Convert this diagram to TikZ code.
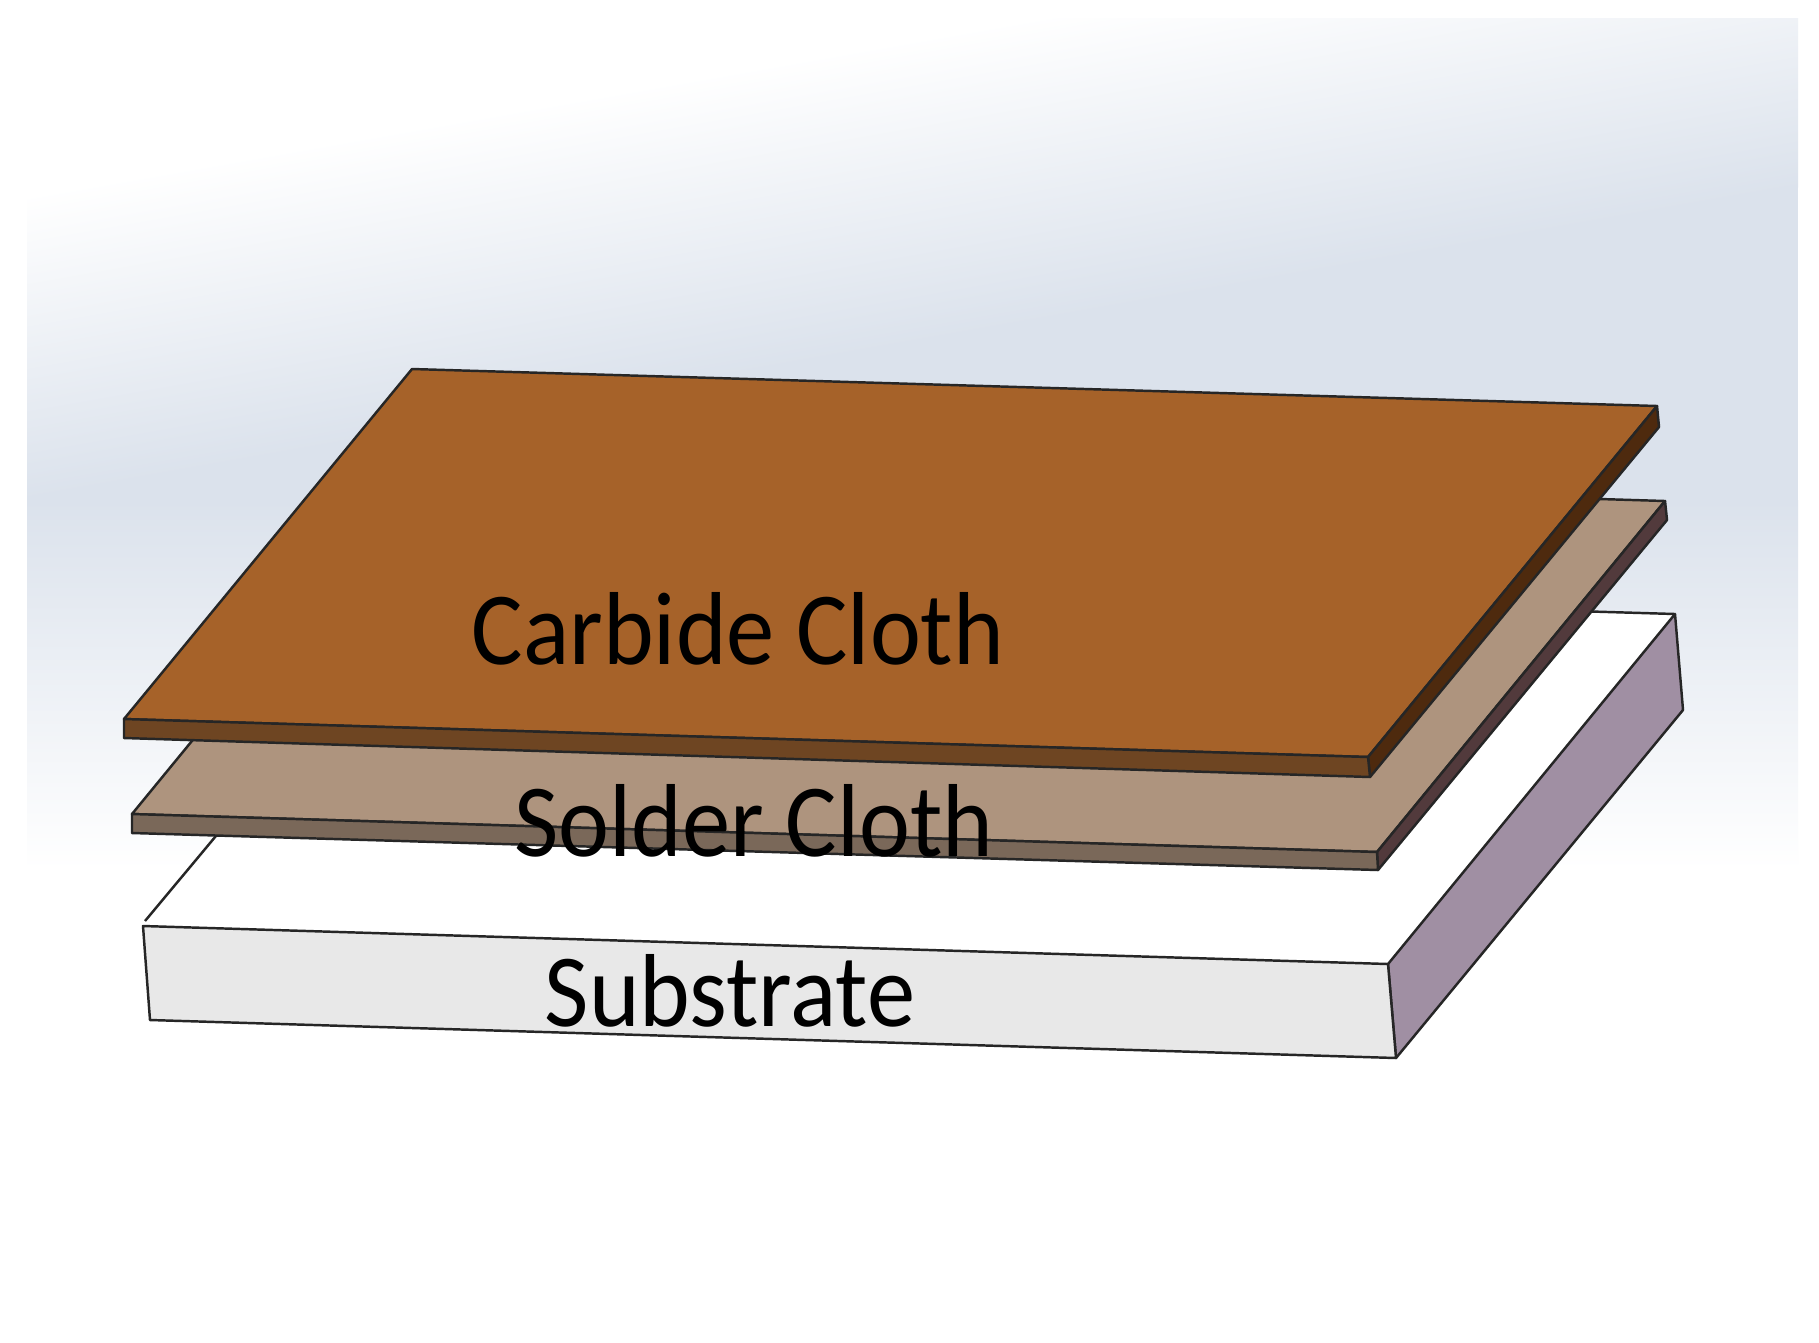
\documentclass[tikz,border=0pt]{standalone}
\usepackage{fontspec}
\newfontfamily\labelfont[FakeStretch=0.93]{Carlito}
\definecolor{skyblue}{RGB}{219,226,236}
\definecolor{carbidetop}{RGB}{166,98,41}
\definecolor{carbidefront}{RGB}{110,69,34}
\definecolor{carbideside}{RGB}{78,42,14}
\definecolor{soldertop}{RGB}{174,148,126}
\definecolor{solderfront}{RGB}{122,104,89}
\definecolor{solderside}{RGB}{82,58,60}
\definecolor{subfront}{RGB}{232,232,232}
\definecolor{subside}{RGB}{160,143,163}
\pgfdeclareverticalshading{skyfall}{100bp}{color(0bp)=(white);color(32bp)=(white);color(75bp)=(skyblue);color(100bp)=(skyblue)}
\pgfdeclareverticalshading{skyrise}{100bp}{color(0bp)=(skyblue);color(25bp)=(skyblue);color(68bp)=(white);color(100bp)=(white)}
\begin{document}
\begin{tikzpicture}[x=0.01cm,y=-0.01cm,
    face/.style={draw=black!85,line width=0.7pt,line join=round},
    tag/.style={anchor=base,inner sep=0pt,font=\labelfont\fontsize{29.5}{30}\selectfont}]
    \useasboundingbox (0,0) rectangle (1819,1342);
    % backdrop
    \fill[white] (0,0) rectangle (1819,1342);
    \begin{scope}
        \clip (27,18) rectangle (1798,1319);
        \fill[skyblue] (27,18) rectangle (1798,510);
        \shade[shading=skyfall] (27,500) rectangle (1798,930);
        \begin{scope}[transform canvas={rotate around={10:(27,500)}}]
            \fill[white] (-300,-1000) rectangle (2400,151);
            \shade[shading=skyrise] (-300,150) rectangle (2400,500);
        \end{scope}
    \end{scope}
    % substrate
    \fill[white] (143,926) -- (1388,964) -- (1675,614) -- (432,577) -- cycle;
    \draw[face] (145,921) -- (432,577) -- (1675,614);
    \draw[face,fill=subside] (1388,964) -- (1675,614) -- (1683,710) -- (1396,1058) -- cycle;
    \draw[face,fill=subfront] (143,926) -- (1388,964) -- (1396,1058) -- (150,1020) -- cycle;
    % solder cloth
    \draw[face,fill=soldertop] (132,814) -- (1377,852) -- (1665,501) -- (420,463) -- cycle;
    \draw[face,fill=solderside] (1377,852) -- (1665,501) -- (1667,520) -- (1378,870) -- cycle;
    \draw[face,fill=solderfront] (132,814) -- (1377,852) -- (1378,870) -- (132,833) -- cycle;
    % carbide cloth
    \draw[face,fill=carbidetop] (124,719) -- (1368,757) -- (1657,406) -- (412,369) -- cycle;
    \draw[face,fill=carbideside] (1368,757) -- (1657,406) -- (1659,427) -- (1370,777) -- cycle;
    \draw[face,fill=carbidefront] (124,719) -- (1368,757) -- (1370,777) -- (124,738) -- cycle;
    % labels
    \node[tag] (carbide) at (738,664) {Carbide Cloth};
    \node[tag] (solder) at (754,856) {Solder Cloth};
    \node[tag] (substrate) at (730,1026) {Substrate};
\end{tikzpicture}
\end{document}
